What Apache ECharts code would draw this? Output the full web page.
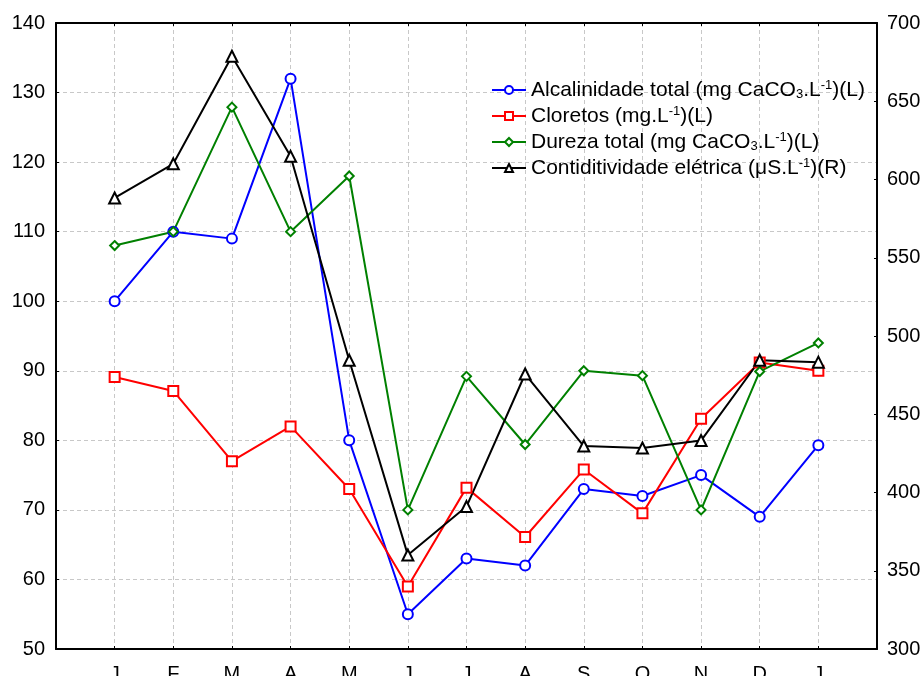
<!DOCTYPE html>
<html>
<head>
<meta charset="utf-8">
<script src="https://cdn.jsdelivr.net/npm/echarts@6/dist/echarts.min.js"></script>
<style>html,body{margin:0;padding:0;background:#fff}#c{width:924px;height:676px}</style>
</head>
<body>
<div id="c"></div>
<script>
// Data
const months = ['J','F','M','A','M','J','J','A','S','O','N','D','J'];
const alcalinidade = [100, 110, 109, 132, 80, 55, 63, 62, 73, 72, 75, 69, 79.3];
const cloretos = [89.1, 87.1, 77, 82, 73, 59, 73.2, 66.1, 75.8, 69.5, 83.1, 91.2, 90];
const dureza = [108, 110, 127.9, 110, 118, 70, 89.2, 79.4, 90, 89.3, 70, 89.9, 94];
const condutividade = [588.2, 610, 678.8, 614.8, 484.5, 360, 391, 475.7, 429.7, 428.4, 433.2, 484.5, 483.3];
const leftTicks = {min: 50, max: 140, step: 10};
const rightTicks = {min: 300, max: 700, step: 50};
const seriesNames = ['Alcalinidade', 'Cloretos', 'Dureza', 'Condutividade'];
const legendLabels = {
  'Alcalinidade': 'Alcalinidade total (mg CaCO{sub|3}.L{sup|-1})(L)',
  'Cloretos': 'Cloretos (mg.L{sup|-1})(L)',
  'Dureza': 'Dureza total (mg CaCO{sub|3}.L{sup|-1})(L)',
  'Condutividade': 'Contiditividade elétrica (μS.L{sup|-1})(R)'
};

const cats = [''].concat(months).concat(['']);
const toPts = arr => arr.map((v, i) => [i + 1, v]);
const FONT = 'Liberation Sans, Arial, sans-serif';

const chart = echarts.init(document.getElementById('c'), null, {renderer: 'canvas'});
const mk = (name, data, color, symbol, size, yIdx) => ({
  name, type: 'line', data: toPts(data), yAxisIndex: yIdx,
  symbol, symbolSize: size, showSymbol: true,
  lineStyle: {color, width: 2},
  itemStyle: {color, borderColor: color, borderWidth: 1.3},
  animation: false, z: 3
});

chart.setOption({
  animation: false,
  backgroundColor: '#fff',
  grid: {left: 56, right: 47, top: 23, bottom: 27, containLabel: false, outerBoundsMode: 'none'},
  legend: {
    orient: 'vertical', left: 486, top: 74,
    itemWidth: 34, itemHeight: 10, itemGap: 4,
    data: seriesNames,
    formatter: n => legendLabels[n],
    textStyle: {
      fontFamily: FONT, fontSize: 21, lineHeight: 21, color: '#000',
      rich: {
        sub: {fontFamily: FONT, fontSize: 13, lineHeight: 13, padding: [9, 0, 0, 0], color: '#000'},
        sup: {fontFamily: FONT, fontSize: 13, lineHeight: 13, padding: [0, 0, 9, 0], color: '#000'}
      }
    }
  },
  xAxis: [{
    type: 'category', data: cats, boundaryGap: false, position: 'bottom',
    axisLine: {lineStyle: {color: '#000', width: 2}},
    axisTick: {show: true, inside: true, length: 3, lineStyle: {color: '#000'}},
    axisLabel: {fontFamily: FONT, fontSize: 20, color: '#000', margin: 15, interval: 0},
    splitLine: {show: true, lineStyle: {color: '#c8c8c8', type: [4, 3], width: 1}}
  }, {
    type: 'category', data: cats, boundaryGap: false, position: 'top',
    axisLine: {lineStyle: {color: '#000', width: 2}},
    axisTick: {show: true, inside: true, length: 3, lineStyle: {color: '#000'}},
    axisLabel: {show: false}, splitLine: {show: false}
  }],
  yAxis: [{
    type: 'value', min: leftTicks.min, max: leftTicks.max, interval: leftTicks.step, position: 'left',
    axisLine: {show: true, lineStyle: {color: '#000', width: 2}},
    axisTick: {show: true, inside: true, length: 3, lineStyle: {color: '#000'}},
    axisLabel: {fontFamily: FONT, fontSize: 20, color: '#000', margin: 11},
    splitLine: {show: true, lineStyle: {color: '#c8c8c8', type: [4, 3], width: 1}}
  }, {
    type: 'value', min: rightTicks.min, max: rightTicks.max, interval: rightTicks.step, position: 'right',
    axisLine: {show: true, lineStyle: {color: '#000', width: 2}},
    axisTick: {show: true, inside: true, length: 3, lineStyle: {color: '#000'}},
    axisLabel: {fontFamily: FONT, fontSize: 20, color: '#000', margin: 10},
    splitLine: {show: false}
  }],
  series: [
    mk('Alcalinidade', alcalinidade, '#0000ff', 'emptyCircle', 10, 0),
    mk('Cloretos', cloretos, '#ff0000', 'emptyRect', 10, 0),
    mk('Dureza', dureza, '#008000', 'emptyDiamond', 9, 0),
    mk('Condutividade', condutividade, '#000000', 'emptyTriangle', 11, 1)
  ]
});
</script>
</body>
</html>
